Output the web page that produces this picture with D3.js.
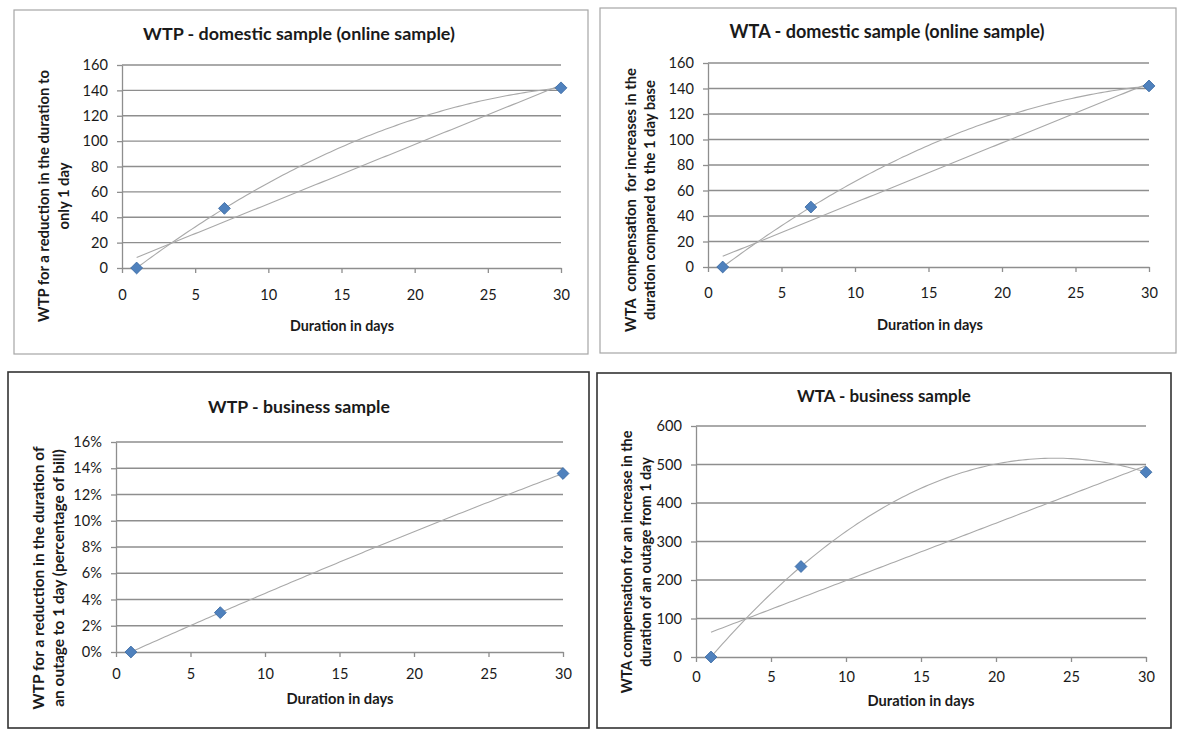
<!DOCTYPE html>
<html><head><meta charset="utf-8">
<script src="https://cdn.jsdelivr.net/npm/d3@7"></script>
<style>body{margin:0;background:#fff}svg{display:block}text{font-family:Lato,"Open Sans",sans-serif;fill:#1a1a1a;white-space:pre}</style>
</head><body>
<svg id="c" width="1194" height="743"></svg>
<script>
// ---- data ----
const days = [1, 7, 30];
const wtpDomestic = [0, 47, 142];
const wtaDomestic = [0, 47, 142];
const wtpBusiness = [0, 0.03, 0.136];
const wtaBusiness = [0, 235, 480];
const xTicks = [0, 5, 10, 15, 20, 25, 30];
const domesticTicks = [0, 20, 40, 60, 80, 100, 120, 140, 160];
const pctTicks = [0, 0.02, 0.04, 0.06, 0.08, 0.10, 0.12, 0.14, 0.16];
const wtaBizTicks = [0, 100, 200, 300, 400, 500, 600];
const titles = ["WTP - domestic sample (online sample)", "WTA - domestic sample (online sample)", "WTP - business sample", "WTA - business sample"];
const yTitles = [
  ["WTP for a reduction in the duration to", "only 1 day"],
  ["WTA  compensation  for increases in the", "duration compared to the 1 day base"],
  ["WTP for a reduction in the duration of", "an outage to 1 day (percentage of bill)"],
  ["WTA compensation for an increase in the", "duration of an outage from 1 day"]
];
const xTitle = "Duration in days";

// ---- layout ----
const panels = [
  {values: wtpDomestic, yTicks: domesticTicks, fmt: d3.format("d"), box:[14,10,588,354], border:"#a6a6a6", bw:1.2,
   px:[122,561], py:[268,65], xlPad:17, title:[299,34,312], xt:[342,326,104], yt:[44,64,196,252], lines:["linear","poly"]},
  {values: wtaDomestic, yTicks: domesticTicks, fmt: d3.format("d"), box:[600,8,1176,353], border:"#a6a6a6", bw:1.2,
   px:[708,1149], py:[267,63], xlPad:16, title:[887,32,315], xt:[930,325,106], yt:[631,650,200,264], lines:["linear","poly"]},
  {values: wtpBusiness, yTicks: pctTicks, fmt: d3.format(".0%"), box:[8,372,589,728], border:"#333", bw:1.6,
   px:[116,563], py:[652,442], xlPad:12, title:[299,407,182], xt:[340,699,107], yt:[39,59,578,263], lines:["poly"]},
  {values: wtaBusiness, yTicks: wtaBizTicks, fmt: d3.format("d"), box:[597,373,1171,728], border:"#333", bw:1.6,
   px:[696,1146], py:[657,426], xlPad:10, title:[884,396,174], xt:[921,701,107], yt:[627,646,562,263], lines:["linear","poly"]}
];

const svg = d3.select("#c");

function fit(sel, target, base) {
  sel.style("font-size", base + "px");
  const w = sel.node().getComputedTextLength();
  sel.style("font-size", (base * target / w).toFixed(2) + "px");
  return base * target / w;
}

function linFit(xs, ys) {
  const mx = d3.mean(xs), my = d3.mean(ys);
  const sxy = d3.sum(xs, (x, i) => (x - mx) * (ys[i] - my));
  const sxx = d3.sum(xs, x => (x - mx) * (x - mx));
  const b = sxy / sxx;
  return x => my - b * mx + b * x;
}
function polyFit(xs, ys) { // quadratic through the three points (Lagrange)
  return x => d3.sum(xs, (xi, i) => {
    let t = ys[i];
    xs.forEach((xj, j) => { if (j !== i) t *= (x - xj) / (xi - xj); });
    return t;
  });
}

panels.forEach((p, k) => {
  const g = svg.append("g");
  const [bx0, by0, bx1, by1] = p.box;
  g.append("rect").attr("x", bx0).attr("y", by0).attr("width", bx1 - bx0).attr("height", by1 - by0)
    .attr("fill", "#fff").attr("stroke", p.border).attr("stroke-width", p.bw);

  const x = d3.scaleLinear().domain([0, 30]).range(p.px);
  const ymax = p.yTicks[p.yTicks.length - 1];
  const y = d3.scaleLinear().domain([0, ymax]).range(p.py);

  // gridlines
  g.append("g").selectAll("line").data(p.yTicks.slice(1)).join("line")
    .attr("x1", p.px[0]).attr("x2", p.px[1]).attr("y1", d => y(d)).attr("y2", d => y(d))
    .attr("stroke", "#8e8e8e").attr("stroke-width", 1.3);

  // y axis
  const ya = g.append("g").attr("transform", `translate(${p.px[0]},0)`)
    .call(d3.axisLeft(y).tickValues(p.yTicks).tickFormat(p.fmt).tickSize(5).tickPadding(9).tickSizeOuter(0));
  // x axis
  const xa = g.append("g").attr("transform", `translate(0,${p.py[0]})`)
    .call(d3.axisBottom(x).tickValues(xTicks).tickSize(5).tickPadding(p.xlPad).tickSizeOuter(0));
  [ya, xa].forEach(a => {
    a.selectAll("path,line").attr("stroke", "#8e8e8e").attr("stroke-width", 1.3);
    a.selectAll("text").style("font-size", "14.6px").style("font-family", "Lato").attr("fill", "#1a1a1a");
  });

  // trend lines
  const samples = d3.range(1, 30.001, 0.25);
  p.lines.forEach(type => {
    const f = type === "linear" ? linFit(days, p.values) : polyFit(days, p.values);
    g.append("path").datum(samples)
      .attr("d", d3.line().x(d => x(d)).y(d => y(f(d))))
      .attr("fill", "none").attr("stroke", "#a9a9a9").attr("stroke-width", 1.1);
  });

  // markers
  g.append("g").selectAll("path").data(days).join("path")
    .attr("d", d3.symbol(d3.symbolSquare, 70)())
    .attr("transform", (d, i) => `translate(${x(d)},${y(p.values[i])}) rotate(45)`)
    .attr("fill", "#4f81bd").attr("stroke", "#3b6aa3").attr("stroke-width", 0.8);

  // title
  const t = g.append("text").attr("x", p.title[0]).attr("y", p.title[1]).attr("dy", "0.35em")
    .attr("text-anchor", "middle").style("font-weight", "bold").attr("fill", "#000").text(titles[k]);
  fit(t, p.title[2], 16);

  // x axis title
  const xtt = g.append("text").attr("x", p.xt[0]).attr("y", p.xt[1]).attr("dy", "0.35em")
    .attr("text-anchor", "middle").style("font-weight", "bold").attr("fill", "#000").text(xTitle);
  fit(xtt, p.xt[2], 13);

  // y axis title (two lines)
  const l1 = g.append("text").attr("transform", `translate(${p.yt[0]},${p.yt[2]}) rotate(-90)`).attr("dy", "0.35em")
    .attr("text-anchor", "middle").style("font-weight", "bold").attr("fill", "#000").text(yTitles[k][0]);
  const fs = fit(l1, p.yt[3], 13);
  g.append("text").attr("transform", `translate(${p.yt[1]},${p.yt[2]}) rotate(-90)`).attr("dy", "0.35em")
    .attr("text-anchor", "middle").style("font-weight", "bold").attr("fill", "#000")
    .style("font-size", fs.toFixed(2) + "px").text(yTitles[k][1]);
});
</script>
</body></html>
